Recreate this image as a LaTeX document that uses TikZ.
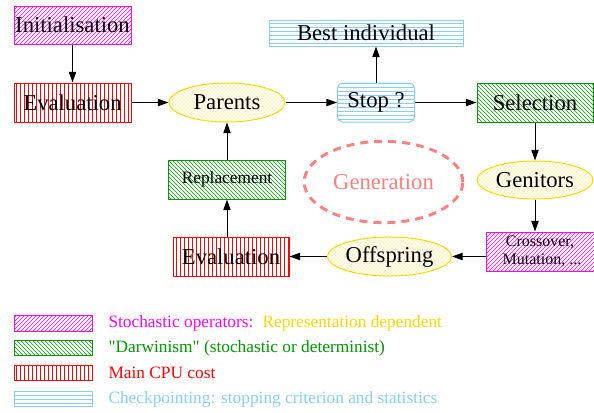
\documentclass[tikz,border=0pt]{standalone}
\usepackage{fontspec}
\setmainfont{Liberation Serif}
\usetikzlibrary{patterns,shapes.geometric,arrows.meta}

\definecolor{opmagenta}{RGB}{255,0,255}
\definecolor{darwgreen}{RGB}{0,150,0}
\definecolor{cpured}{RGB}{255,0,0}
\definecolor{repgold}{RGB}{255,215,0}
\definecolor{chkblue}{RGB}{135,206,255}
\definecolor{gensalmon}{RGB}{255,128,128}

\tikzset{every picture/.style={line width=0.75pt}}
\tikzset{
  stoch/.style={draw=opmagenta, pattern=north east lines, pattern color=opmagenta, inner sep=0pt},
  darwin/.style={draw=darwgreen, pattern=north west lines, pattern color=darwgreen, inner sep=0pt},
  cpucost/.style={draw=cpured, pattern=vertical lines, pattern color=cpured, inner sep=0pt},
  checkpt/.style={draw=chkblue, pattern=horizontal lines, pattern color=chkblue, inner sep=0pt},
  repdep/.style={ellipse, draw=repgold, pattern=crosshatch dots, pattern color=repgold, inner sep=0pt},
  bigtext/.style={font=\fontsize{17}{19}\selectfont},
  keytext/.style={font=\fontsize{13}{15}\selectfont, anchor=west, inner sep=0pt},
  flow/.style={-{Triangle[length=8pt,width=5.5pt]}},
}

\begin{document}
\begin{tikzpicture}[x=0.75pt,y=0.75pt,yscale=-1,xscale=1]
\useasboundingbox (0,0) rectangle (594,412);

%Shape: Rectangle [Initialisation]
\node[stoch, bigtext, minimum width=87.75pt, minimum height=28.5pt] (init) at (72.5,25) {Initialisation};
%Shape: Rectangle [Evaluation, top]
\node[cpucost, bigtext, minimum width=87.75pt, minimum height=29.25pt] (evaltop) at (72.5,102.5) {Evaluation};
%Shape: Ellipse [Parents]
\node[repdep, bigtext, minimum width=87pt, minimum height=29.25pt] (parents) at (227,102.5) {Parents};
%Shape: Rounded Rectangle [Stop ?]
\node[checkpt, bigtext, rounded corners=4pt, minimum width=57.75pt, minimum height=29.25pt] (stop) at (376,102.5) {Stop ?};
%Shape: Rectangle [Best individual]
\node[checkpt, bigtext, minimum width=145.5pt, minimum height=19.5pt] (best) at (366,33) {Best individual};
%Shape: Rectangle [Selection]
\node[darwin, bigtext, minimum width=87pt, minimum height=29.25pt] (select) at (535,102.5) {Selection};
%Shape: Ellipse [Genitors]
\node[repdep, bigtext, minimum width=87pt, minimum height=28.5pt] (genitors) at (535,180) {Genitors};
%Shape: Rectangle [Crossover]
\node[stoch, font=\fontsize{12}{13}\selectfont, align=center, minimum width=81pt, minimum height=29.25pt] (cross) at (540,251.5) {Crossover,\\ \ Mutation, ...};
%Shape: Ellipse [Offspring]
\node[repdep, bigtext, minimum width=86.25pt, minimum height=29.25pt] (offspring) at (389.5,256.5) {Offspring};
%Shape: Rectangle [Evaluation, bottom]
\node[cpucost, bigtext, minimum width=87pt, minimum height=29.25pt] (evalbot) at (231,256.5) {Evaluation};
%Shape: Rectangle [Replacement]
\node[darwin, font=\fontsize{13}{15}\selectfont, minimum width=87.75pt, minimum height=29.25pt] (replace) at (227,179.5) {Replacement};
%Shape: Ellipse [Generation]
\node[ellipse, draw=gensalmon, text=gensalmon, line width=2.2pt, dash pattern=on 6pt off 4.5pt, bigtext, inner sep=0pt, minimum width=119pt, minimum height=61pt] (generation) at (383.5,182) {Generation};

%Straight Lines
\draw[flow] (init) -- (evaltop);
\draw[flow] (evaltop) -- (parents);
\draw[flow] (parents) -- (stop);
\draw[flow] (stop) -- (stop |- best.south);
\draw[flow] (stop) -- (select);
\draw[flow] (select) -- (genitors);
\draw[flow] (genitors) -- (genitors |- cross.north);
\draw[flow] (cross.west |- offspring) -- (offspring);
\draw[flow] (offspring) -- (evalbot);
\draw[flow] (replace |- evalbot.north) -- (replace);
\draw[flow] (replace) -- (parents);

% Legend
\node[stoch, minimum width=58.5pt, minimum height=12pt] (keystoch) at (53,323) {};
\node[darwin, minimum width=58.5pt, minimum height=11.25pt] (keydarwin) at (53,347.5) {};
\node[cpucost, minimum width=58.5pt, minimum height=11.25pt] (keycpu) at (53,372.5) {};
\node[checkpt, minimum width=58.5pt, minimum height=11.25pt] (keychk) at (53,398.5) {};
% Text Node
\node[keytext, text=opmagenta] (txtstoch) at (108,323) {Stochastic operators:};
\node[keytext, text=repgold] (txtrep) at (262,323) {Representation dependent};
\node[keytext, text=darwgreen] (txtdarwin) at (108,348) {\textquotedbl Darwinism\textquotedbl{} (stochastic or determinist)};
\node[keytext, text=cpured] (txtcpu) at (108,373) {Main CPU cost};
\node[keytext, text=chkblue] (txtchk) at (108,399) {Checkpointing: stopping criterion and statistics};

\end{tikzpicture}
\end{document}
